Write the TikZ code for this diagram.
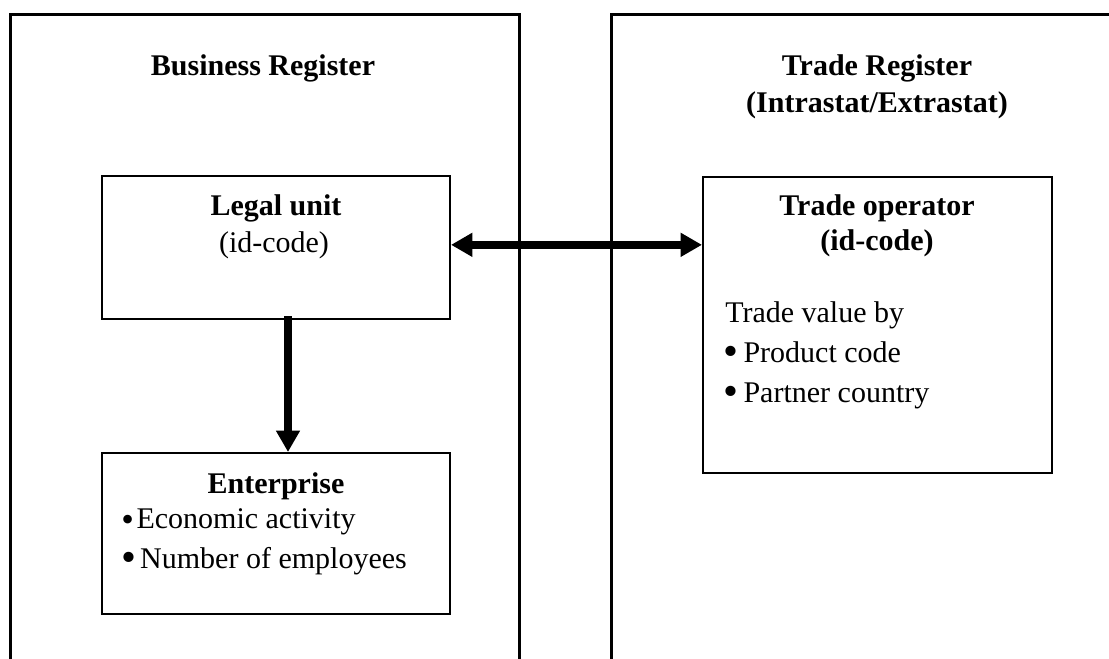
\documentclass[tikz,border=0pt]{standalone}
\usepackage{fontspec}
\setmainfont{Liberation Serif}
\usepackage{tikz}
\usetikzlibrary{arrows.meta,positioning,calc}
\newcommand{\bigdot}[1]{\raisebox{-2.5pt}{\fontsize{#1}{30}\selectfont\textbullet}}

\begin{document}
\begin{tikzpicture}[
  x=0.75pt,y=-0.75pt,
  register/.style={line width=2.25pt},
  unitbox/.style={rectangle,draw,line width=1.5pt,minimum width=261pt,inner sep=0pt},
  label/.style={inner sep=0pt,font=\fontsize{22.5}{30}\selectfont},
  title/.style={label,anchor=base,font=\fontsize{22.5}{30}\selectfont\bfseries},
  item/.style={label,anchor=base west},
  link/.style={line width=5.5pt,-{Triangle[length=16pt,width=17pt]}},
  twoway/.style={line width=5.5pt,{Triangle[length=16pt,width=17pt]}-{Triangle[length=16pt,width=17pt]}},
]
\useasboundingbox (0,0) rectangle (1109,658);

% Registers (open at the bottom)
\draw[register] (10,662) |- (519,14) -- (519,662);
\draw[register] (611,662) |- (1115,14);

\node[title] (br_title) at (263,75) {Business Register};
\node[title] (tr_title) at (877,75) {Trade Register};
\node[title] (tr_sub) at (877,112) {(Intrastat/Extrastat)};

% Business register side
\node[unitbox,minimum height=107.25pt] (lu) at (276,247.5) {};
\node[title] (lu_title) at (276,215) {Legal unit};
\node[label,anchor=base] (lu_code) at (274,252) {(id-code)};

\node[unitbox,minimum height=120.75pt] (ent) at (276,533.5) {};
\node[title] (ent_title) at (276,493) {Enterprise};
\node[item] (ent_act) at (121,528) {\bigdot{27}\hspace{2pt}Economic activity};
\node[item] (ent_emp) at (121,568) {\bigdot{32}\hspace{3pt}Number of employees};

% Trade register side
\node[unitbox,minimum width=261.75pt,minimum height=222pt] (to) at (877.5,325) {};
\node[title] (to_title) at (877,215) {Trade operator};
\node[title] (to_code) at (877,250) {(id-code)};
\node[item] (to_by) at (725,322) {Trade value by};
\node[item] (to_prod) at (723,362) {\bigdot{32}\hspace{4pt}Product code};
\node[item] (to_part) at (723,402) {\bigdot{32}\hspace{4pt}Partner country};

% Links
\draw[twoway] ([yshift=2pt]lu.east) -- ([yshift=2pt]lu.east -| to.west);
\draw[link] ([xshift=9pt,yshift=3pt]lu.south) -- ([xshift=9pt]ent.north);

\end{tikzpicture}
\end{document}
